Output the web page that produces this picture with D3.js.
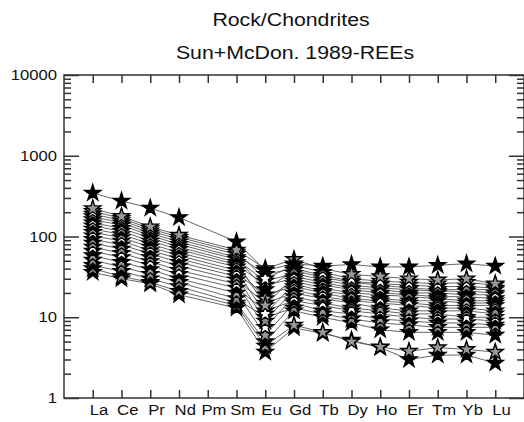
<!DOCTYPE html>
<html>
<head>
<meta charset="utf-8">
<script src="https://cdn.jsdelivr.net/npm/d3@7"></script>
<style>
  body { margin: 0; background: #fff; }
  text { font-family: "Liberation Sans", Arial, sans-serif; fill: #111; }
</style>
</head>
<body>
<script>
var width = 524, height = 422;

// categories (Pm has no data)
var elements = ["La", "Ce", "Pr", "Nd", "Pm", "Sm", "Eu", "Gd", "Tb", "Dy", "Ho", "Er", "Tm", "Yb", "Lu"];
var yMajor = [1, 10, 100, 1000, 10000];

// chondrite-normalised values
var s01 = [345, 275, 225, 172, null, 86, 38, 46, 43, 45, 42, 42, 44, 46, 43];
var s02 = [222, 178, 132, 104, null, 68, 40, 52, 40, 34, 32, 30, 29, 30, 26];
var s03 = [205, 168, 125, 98, null, 64, 30, 44, 36, 30, 28, 27, 26, 27, 25];
var s04 = [190, 158, 118, 92, null, 60, 34, 40, 33, 28, 26, 25, 24, 24, 23];
var s05 = [176, 148, 110, 86, null, 55, 22, 38, 31, 27, 25, 23, 22, 22, 22];
var s06 = [162, 138, 103, 80, null, 52, 28, 35, 29, 25, 23, 22, 21, 21, 20];
var s07 = [148, 126, 96, 74, null, 48, 14, 32, 27, 23, 22, 20, 20, 19, 19];
var s08 = [136, 116, 88, 69, null, 45, 25, 30, 25, 22, 20, 19, 18, 18, 17];
var s09 = [124, 106, 81, 63, null, 42, 17, 28, 23, 20, 19, 18, 17, 16, 16];
var s10 = [113, 97, 74, 58, null, 38, 11, 26, 21, 19, 17, 16, 16, 15, 15];
var s11 = [102, 88, 67, 53, null, 35, 19, 24, 20, 17, 16, 15, 14, 14, 14];
var s12 = [92, 79, 61, 48, null, 32, 9, 22, 18, 16, 15, 14, 13, 13, 12];
var s13 = [83, 70, 55, 43, null, 29, 15, 20, 17, 15, 13, 12, 12, 12, 11];
var s14 = [74, 62, 49, 38, null, 26, 7.5, 18, 15, 13, 12, 11, 11, 10, 10];
var s15 = [66, 55, 44, 34, null, 23, 12, 16, 14, 12, 11, 10, 9.5, 9.5, 9];
var s16 = [58, 48, 39, 30, null, 20, 6, 15, 12, 11, 9.5, 9, 8.5, 8.5, 8];
var s17 = [51, 42, 34, 27, null, 17, 10, 13, 11, 9.5, 8.5, 8, 7.5, 7.5, 7.5];
var s18 = [44, 37, 30, 24, null, 15, 5, 12, 10, 8.5, 7, 6.5, 6.5, 6.5, 6];
var s19 = [40, 32, 27, 21, null, 14, 4.4, 8, 6.5, 5, 4.3, 3.8, 4.2, 4, 3.7];
var s20 = [36, 30, 26, 19, null, 13, 3.7, 7.4, 6.3, 5.2, 4.2, 3.0, 3.4, 3.4, 2.7];

var samples = [s01, s02, s03, s04, s05, s06, s07, s08, s09, s10,
               s11, s12, s13, s14, s15, s16, s17, s18, s19, s20];
var fills = ["#000", "#999", "#fff", "#888", "#000", "#fff", "#999", "#000", "#aaa", "#fff",
             "#000", "#888", "#999", "#fff", "#000", "#999", "#888", "#000", "#999", "#000"];

var mLeft = 64, mRight = 524, mTop = 75, mBottom = 398;
var sx = 1.15; // the reference text is a bit wide

var svg = d3.select("body").append("svg")
    .attr("width", width)
    .attr("height", height);

var x = d3.scalePoint().domain(elements).range([mLeft, mRight]).padding(1);
var y = d3.scaleLog().domain([1, 10000]).range([mBottom, mTop]);

// minor ticks 2..9 per decade
var yMinor = [];
yMajor.slice(0, -1).forEach(function(m) {
    for (var k = 2; k <= 9; k++) yMinor.push(m * k);
});

function stretch(sel) {
    sel.selectAll("text").each(function() {
        var t = d3.select(this);
        t.attr("x", (+t.attr("x") || 0) / sx).attr("transform", "scale(" + sx + ",1)");
    });
}

function styleAxis(g) {
    g.select(".domain").remove();
    g.selectAll("line").attr("stroke", "#333").attr("stroke-width", 1.5);
    g.selectAll("text").style("font-size", "14.5px").attr("fill", "#111");
}

// left axis
svg.append("g").attr("transform", "translate(" + mLeft + ",0)")
    .call(d3.axisLeft(y).tickValues(yMajor).tickFormat(d3.format("d")).tickSize(-15).tickPadding(7))
    .call(styleAxis).call(stretch);
svg.append("g").attr("transform", "translate(" + mLeft + ",0)")
    .call(d3.axisLeft(y).tickValues(yMinor).tickFormat("").tickSize(-7))
    .call(styleAxis);

// right axis
svg.append("g").attr("transform", "translate(" + mRight + ",0)")
    .call(d3.axisRight(y).tickValues(yMajor).tickFormat("").tickSize(-15))
    .call(styleAxis);
svg.append("g").attr("transform", "translate(" + mRight + ",0)")
    .call(d3.axisRight(y).tickValues(yMinor).tickFormat("").tickSize(-7))
    .call(styleAxis);

// bottom axis
var gx = svg.append("g").attr("transform", "translate(0," + mBottom + ")")
    .call(d3.axisBottom(x).tickSize(-8).tickPadding(7))
    .call(styleAxis);
gx.selectAll("text").attr("dx", 5);
stretch(gx);

// top axis
svg.append("g").attr("transform", "translate(0," + mTop + ")")
    .call(d3.axisTop(x).tickSize(-8).tickFormat(""))
    .call(styleAxis);

// frame
svg.append("rect")
    .attr("x", mLeft).attr("y", mTop)
    .attr("width", mRight - mLeft).attr("height", mBottom - mTop)
    .attr("fill", "none").attr("stroke", "#333").attr("stroke-width", 1.5);

// titles
svg.append("text")
    .attr("transform", "translate(291,26) scale(" + sx + ",1)")
    .attr("text-anchor", "middle").style("font-size", "18.5px")
    .text("Rock/Chondrites");
svg.append("text")
    .attr("transform", "translate(295,59) scale(" + sx + ",1)")
    .attr("text-anchor", "middle").style("font-size", "18.5px")
    .text("Sun+McDon. 1989-REEs");

// series
var pts = samples.map(function(s, si) {
    return s.map(function(v, i) { return { el: elements[i], v: v, si: si }; })
            .filter(function(d) { return d.v != null; });
});

var line = d3.line()
    .x(function(d) { return x(d.el); })
    .y(function(d) { return y(d.v); });

svg.append("g").selectAll("path")
    .data(pts)
    .enter().append("path")
    .attr("d", line)
    .attr("fill", "none")
    .attr("stroke", "#555")
    .attr("stroke-width", 0.9);

var star = d3.symbol().type(d3.symbolStar).size(80);

svg.append("g").selectAll("g")
    .data(pts.slice().reverse())
    .enter().append("g")
    .selectAll("path")
    .data(function(d) { return d; })
    .enter().append("path")
    .attr("d", star)
    .attr("transform", function(d) { return "translate(" + x(d.el) + "," + y(d.v) + ")"; })
    .attr("fill", function(d) { return fills[d.si]; })
    .attr("stroke", "#000")
    .attr("stroke-width", 1.4);
</script>
</body>
</html>
